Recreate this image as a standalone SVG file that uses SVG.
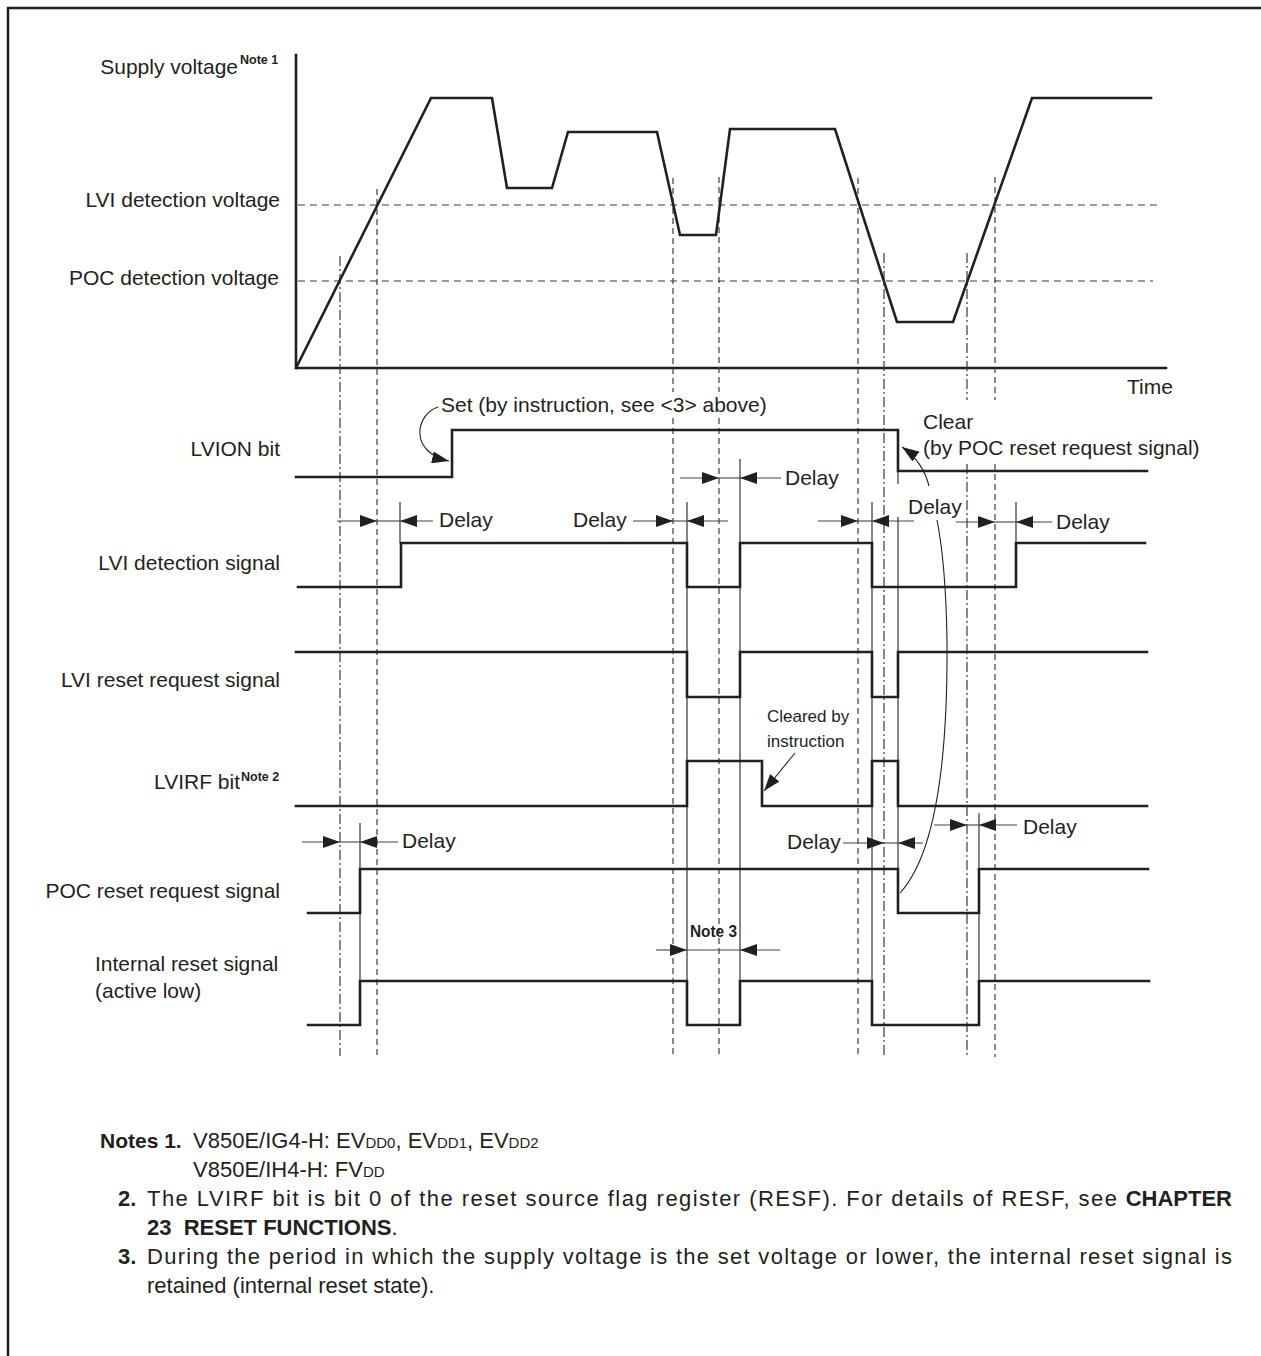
<svg xmlns="http://www.w3.org/2000/svg" width="1261" height="1356" viewBox="0 0 1261 1356">
<style>
.frame{fill:none;stroke:#231f20;stroke-width:2.5}
.sig{fill:none;stroke:#231f20;stroke-width:2.6;stroke-linejoin:miter;stroke-linecap:square}
.thin{fill:none;stroke:#231f20;stroke-width:1.1}
.dim{fill:none;stroke:#444;stroke-width:1.1}
.dash{fill:none;stroke:#3a3a3a;stroke-width:1.2;stroke-dasharray:6 4}
.hdash{fill:none;stroke:#3a3a3a;stroke-width:1.2;stroke-dasharray:7 5}
.dashdot{fill:none;stroke:#3a3a3a;stroke-width:1.2;stroke-dasharray:10 3 2 3}
text{font-family:"Liberation Sans",Arial,Helvetica,sans-serif;fill:#231f20}
.lbl{font-size:21px}
.r{text-anchor:end}
.sup{font-size:12.5px;font-weight:bold}
.small{font-size:17px}
.note{font-size:22px}
.b{font-weight:bold}
.sub{font-size:15px}
</style>
<defs>
<marker id="ah" markerUnits="userSpaceOnUse" markerWidth="18" markerHeight="12" refX="17" refY="6" orient="auto">
<path d="M0,0 L17,6 L0,12 z" fill="#231f20"/>
</marker>
</defs>

<path class="frame" d="M8 1356 V8 H1261"/>

<g id="axes">
<path class="sig" d="M296 55 V368 H1166"/>
<text class="lbl" x="1127" y="394">Time</text>
</g>

<g id="thresholds">
<line class="hdash" x1="298" y1="205" x2="1157" y2="205"/>
<line class="hdash" x1="298" y1="281" x2="1153" y2="281"/>
</g>

<g id="guides">
<line class="dashdot" x1="340" y1="256" x2="340" y2="1056"/>
<line class="dash" x1="377" y1="189" x2="377" y2="1057"/>
<path class="dash" d="M673 178 V392 M673 418 V1057"/>
<path class="dash" d="M719 177 V392 M719 418 V1057"/>
<line class="dash" x1="858" y1="178" x2="858" y2="1057"/>
<line class="dashdot" x1="884" y1="253" x2="884" y2="1057"/>
<path class="dashdot" d="M967 253 V400 M967 464 V1057"/>
<path class="dash" d="M995 177 V400 M995 464 V1057"/>
</g>

<g id="supply-voltage">
<path class="sig" d="M296 368 L431 98 L492 98 L507 188 L552 188 L568 132 L657 132 L680 235 L716 235 L730 129 L835 129 L897 322 L953 322 L1032 98 L1151 98"/>
</g>

<g id="labels">
<text class="lbl r" x="238" y="74">Supply voltage</text>
<text class="sup" x="240" y="64">Note 1</text>
<text class="lbl r" x="280" y="207">LVI detection voltage</text>
<text class="lbl r" x="279" y="285">POC detection voltage</text>
<text class="lbl r" x="280" y="456">LVION bit</text>
<text class="lbl r" x="280" y="570">LVI detection signal</text>
<text class="lbl r" x="280" y="687">LVI reset request signal</text>
<text class="lbl r" x="240" y="789">LVIRF bit</text>
<text class="sup" x="241" y="781">Note 2</text>
<text class="lbl r" x="280" y="898">POC reset request signal</text>
<text class="lbl" x="95" y="971">Internal reset signal</text>
<text class="lbl" x="95" y="998">(active low)</text>
</g>

<g id="lvion-bit">
<path class="sig" d="M296 477 H452 V430 H898 V471 H1147"/>
</g>
<g id="lvi-detection-signal">
<path class="sig" d="M298 587 H401 V543 H687 V587 H740 V543 H872 V587 H1016 V543 H1145"/>
</g>
<g id="lvi-reset-request">
<path class="sig" d="M296 652 H687 V697 H740 V652 H872 V697 H898 V652 H1147"/>
</g>
<g id="lvirf-bit">
<path class="sig" d="M296 806 H687 V761 H762 V806 H872 V761 H898 V806 H1147"/>
</g>
<g id="poc-reset-request">
<path class="sig" d="M308 913 H360 V869 H898 V913 H979 V869 H1148"/>
</g>
<g id="internal-reset">
<path class="sig" d="M308 1025 H360 V981 H687 V1025 H740 V981 H872 V1025 H979 V981 H1149"/>
</g>

<g id="connectors">
<line class="thin" x1="400" y1="502" x2="400" y2="543"/>
<line class="thin" x1="687" y1="502" x2="687" y2="1025"/>
<line class="thin" x1="740" y1="459" x2="740" y2="1025"/>
<line class="thin" x1="872" y1="502" x2="872" y2="1025"/>
<line class="thin" x1="898" y1="471" x2="898" y2="484"/>
<line class="thin" x1="898" y1="517" x2="898" y2="870"/>
<line class="thin" x1="979" y1="813" x2="979" y2="1025"/>
<line class="thin" x1="1016" y1="502" x2="1016" y2="543"/>
<line class="thin" x1="360" y1="823" x2="360" y2="1025"/>

<g id="delay1">
<line class="dim" x1="337" y1="521" x2="377" y2="521" marker-end="url(#ah)"/>
<line class="dim" x1="377" y1="521" x2="400" y2="521"/>
<line class="dim" x1="433" y1="521" x2="400" y2="521" marker-end="url(#ah)"/>
</g>
<g id="delay2">
<line class="dim" x1="633" y1="521" x2="673" y2="521" marker-end="url(#ah)"/>
<line class="dim" x1="673" y1="521" x2="687" y2="521"/>
<line class="dim" x1="728" y1="521" x2="687" y2="521" marker-end="url(#ah)"/>
</g>
<g id="delay3">
<line class="dim" x1="680" y1="478" x2="719" y2="478" marker-end="url(#ah)"/>
<line class="dim" x1="719" y1="478" x2="740" y2="478"/>
<line class="dim" x1="781" y1="478" x2="740" y2="478" marker-end="url(#ah)"/>
</g>
<g id="delay4">
<line class="dim" x1="818" y1="521" x2="858" y2="521" marker-end="url(#ah)"/>
<line class="dim" x1="858" y1="521" x2="872" y2="521"/>
<line class="dim" x1="914" y1="521" x2="872" y2="521" marker-end="url(#ah)"/>
</g>
<g id="delay5">
<line class="dim" x1="956" y1="522" x2="995" y2="522" marker-end="url(#ah)"/>
<line class="dim" x1="995" y1="522" x2="1016" y2="522"/>
<line class="dim" x1="1052" y1="522" x2="1016" y2="522" marker-end="url(#ah)"/>
</g>
<g id="delay6">
<line class="dim" x1="302" y1="842" x2="340" y2="842" marker-end="url(#ah)"/>
<line class="dim" x1="340" y1="842" x2="360" y2="842"/>
<line class="dim" x1="398" y1="842" x2="360" y2="842" marker-end="url(#ah)"/>
</g>
<g id="delay7">
<line class="dim" x1="843" y1="843" x2="884" y2="843" marker-end="url(#ah)"/>
<line class="dim" x1="884" y1="843" x2="898" y2="843"/>
<line class="dim" x1="923" y1="843" x2="898" y2="843" marker-end="url(#ah)"/>
</g>
<g id="delay8">
<line class="dim" x1="934" y1="825" x2="967" y2="825" marker-end="url(#ah)"/>
<line class="dim" x1="967" y1="825" x2="979" y2="825"/>
<line class="dim" x1="1017" y1="825" x2="979" y2="825" marker-end="url(#ah)"/>
</g>
<g id="note3-dim">
<line class="dim" x1="656" y1="950" x2="687" y2="950" marker-end="url(#ah)"/>
<line class="dim" x1="687" y1="950" x2="740" y2="950"/>
<line class="dim" x1="780" y1="950" x2="740" y2="950" marker-end="url(#ah)"/>
</g>

<path class="thin" d="M438 407 C416 414, 408 452, 449 461" marker-end="url(#ah)"/>
<path class="thin" d="M929 486 C926 474, 918 458, 902 447" marker-end="url(#ah)"/>
<path class="thin" d="M900 893 C935 855, 948 760, 947 640 C946 580, 942 545, 937 520"/>
<line class="thin" x1="795" y1="753" x2="764" y2="791" marker-end="url(#ah)"/>
</g>

<g id="annotations">
<text class="lbl" x="441" y="412">Set (by instruction, see &lt;3&gt; above)</text>
<text class="lbl" x="923" y="429">Clear</text>
<text class="lbl" x="923" y="455">(by POC reset request signal)</text>
<text class="lbl" x="439" y="527">Delay</text>
<text class="lbl" x="573" y="527">Delay</text>
<text class="lbl" x="785" y="485">Delay</text>
<text class="lbl" x="908" y="514">Delay</text>
<text class="lbl" x="1056" y="529">Delay</text>
<text class="lbl" x="402" y="848">Delay</text>
<text class="lbl" x="787" y="849">Delay</text>
<text class="lbl" x="1023" y="834">Delay</text>
<text class="small" x="767" y="722">Cleared by</text>
<text class="small" x="767" y="747">instruction</text>
<text class="b" x="690" y="937" font-size="17" textLength="47" lengthAdjust="spacingAndGlyphs">Note 3</text>
</g>

<g id="notes">
<text class="b" x="100" y="1148" font-size="21">Notes 1.</text>
<text class="note" x="193" y="1148">V850E/IG4-H: EV<tspan class="sub">DD0</tspan>, EV<tspan class="sub">DD1</tspan>, EV<tspan class="sub">DD2</tspan></text>
<text class="note" x="193" y="1177">V850E/IH4-H: FV<tspan class="sub">DD</tspan></text>
<text class="note b" x="118" y="1206">2.</text>
<text class="note" x="147" y="1206" textLength="970" lengthAdjust="spacing">The LVIRF bit is bit 0 of the reset source flag register (RESF).  For details of RESF, see</text>
<text class="note b r" x="1232" y="1206">CHAPTER</text>
<text class="note" x="147" y="1235"><tspan class="b">23&#160; RESET FUNCTIONS</tspan>.</text>
<text class="note b" x="118" y="1264">3.</text>
<text class="note" x="147" y="1264" textLength="1085" lengthAdjust="spacing">During the period in which the supply voltage is the set voltage or lower, the internal reset signal is</text>
<text class="note" x="147" y="1293">retained (internal reset state).</text>
</g>
</svg>
